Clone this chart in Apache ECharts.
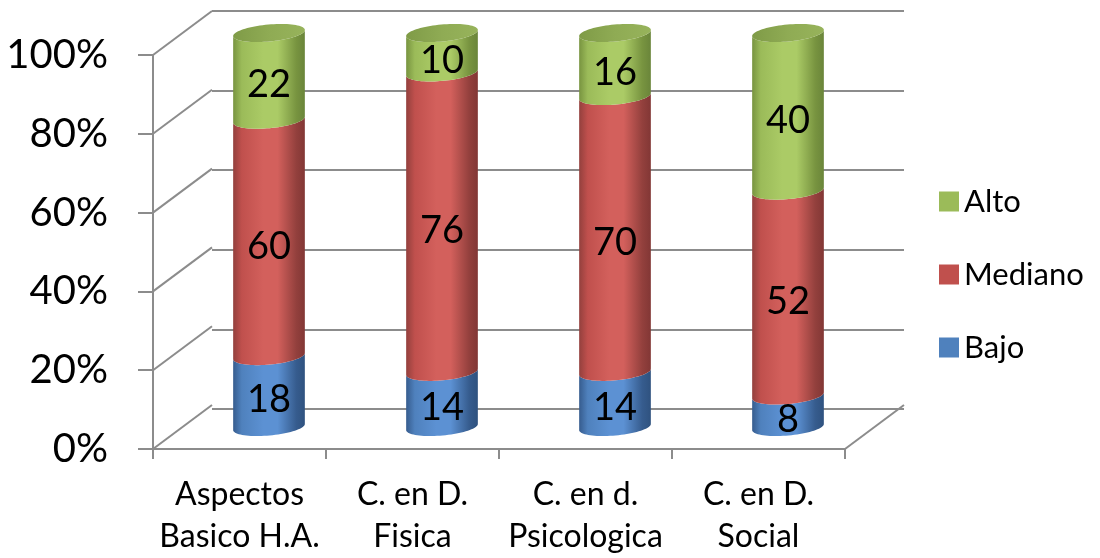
<!DOCTYPE html>
<html>
<head>
<meta charset="utf-8">
<style>
  html, body { margin: 0; padding: 0; background: #ffffff; }
  #chart { width: 1100px; height: 558px; }
</style>
<script src="https://cdn.jsdelivr.net/npm/echarts@6/dist/echarts.min.js"></script>
</head>
<body>
<div id="chart"></div>
<script>
// Categories and stacked percentages per level
const categories = ['Aspectos\nBasico H.A.', 'C. en D.\nFisica', 'C. en d.\nPsicologica', 'C. en D.\nSocial'];
const bajo = [18, 14, 14, 8];
const mediano = [60, 76, 70, 52];
const alto = [22, 10, 16, 40];
const yTicks = [0, 20, 40, 60, 80, 100];
const seriesNames = ['Bajo', 'Mediano', 'Alto'];

// Depth of the 3D box (back wall offset from the front plane), in pixels
const DX = 59, DY = -44;
const FONT = 'Lato, "Open Sans", sans-serif';
const GRID_COLOR = '#8c8c8c';

const palette = {
  Bajo:    { base: '#4F81BD', dark: '#365C8E', light: '#5C91D3', edge: '#2F527F' },
  Mediano: { base: '#C0504D', dark: '#93403D', light: '#D3605C', edge: '#823735' },
  Alto:    { base: '#9BBB59', dark: '#789440', light: '#ABCB66', edge: '#6A853A' }
};

const chart = echarts.init(document.getElementById('chart'), null, { renderer: 'canvas' });

// front plane grid
const F = { left: 153, right: 255, top: 55, bottom: 105 };

function ellipsePts(cx, cy, rx, ry, t0, t1, n) {
  const th = -0.09, c = Math.cos(th), s = Math.sin(th);
  const pts = [];
  for (let k = 0; k <= n; k++) {
    const t = t0 + (t1 - t0) * k / n;
    const ex = rx * Math.cos(t), ey = ry * Math.sin(t);
    pts.push([cx + ex * c - ey * s, cy + ex * s + ey * c]);
  }
  return pts;
}

function buildStack(values, offsets) {
  return values.map((v, i) => [i, offsets[i], offsets[i] + v, v]);
}
const start1 = bajo.map(() => 0);
const start2 = bajo.slice();
const start3 = bajo.map((b, i) => b + mediano[i]);
const stacks = {
  Bajo: buildStack(bajo, start1),
  Mediano: buildStack(mediano, start2),
  Alto: buildStack(alto, start3)
};

function cylinderRender(name, withCap) {
  const col = palette[name];
  return function (params, api) {
    const i = api.value(0), s = api.value(1), e = api.value(2), val = api.value(3);
    const pb = api.coord([i, s]);
    const pt = api.coord([i, e]);
    const bw = api.size([1, 0])[0];
    const rx = bw * 0.208, ry = 8.5;
    const cx = pb[0] + DX / 2;
    const yb = pb[1] + DY / 2;
    const yt = pt[1] + DY / 2;
    const top = ellipsePts(cx, yt, rx, ry, Math.PI, 0, 40);
    const bot = ellipsePts(cx, yb, rx, ry, 0, Math.PI, 40);
    const grad = new echarts.graphic.LinearGradient(0, 0, 1, 0, [
      { offset: 0, color: col.dark },
      { offset: 0.12, color: col.base },
      { offset: 0.42, color: col.light },
      { offset: 0.62, color: col.light },
      { offset: 0.88, color: col.dark },
      { offset: 1, color: col.edge }
    ]);
    const children = [{
      type: 'polygon',
      shape: { points: top.concat(bot) },
      style: { fill: grad, stroke: null }
    }];
    if (withCap) {
      const cap = ellipsePts(cx, yt, rx, ry, 0, Math.PI * 2, 80);
      children.push({
        type: 'polygon',
        shape: { points: cap },
        style: {
          fill: new echarts.graphic.LinearGradient(0, 0, 1, 0, [
            { offset: 0, color: '#7F9B47' },
            { offset: 0.5, color: '#8FAB54' },
            { offset: 1, color: '#97B35B' }
          ])
        }
      });
    }
    children.push({
      type: 'text',
      style: {
        text: String(val),
        x: cx, y: (yt + yb) / 2 + ry,
        align: 'center', verticalAlign: 'middle',
        font: '38px ' + FONT,
        fill: '#000000'
      },
      z2: 10
    });
    return { type: 'group', children: children };
  };
}

// wall edges joining the front axis to the back wall
const frameData = yTicks.map(v => [0, v, 0]).concat([[categories.length - 1, 0, 1]]);

function frameRender(params, api) {
  const i = api.value(0), v = api.value(1), side = api.value(2);
  const p = api.coord([i, v]);
  const bw = api.size([1, 0])[0];
  const x = side === 0 ? p[0] - bw / 2 : p[0] + bw / 2;
  return {
    type: 'line',
    shape: { x1: x, y1: p[1], x2: x + DX, y2: p[1] + DY },
    style: { stroke: GRID_COLOR, lineWidth: 2 }
  };
}

const option = {
  backgroundColor: '#ffffff',
  animation: false,
  grid: [
    { left: F.left, right: F.right, top: F.top, bottom: F.bottom },
    { left: F.left + DX, right: F.right - DX, top: F.top + DY, bottom: F.bottom - DY }
  ],
  legend: {
    data: ['Alto', 'Mediano', 'Bajo'],
    orient: 'vertical',
    left: 934,
    top: 181,
    icon: 'rect',
    itemWidth: 20,
    itemHeight: 20,
    itemGap: 42,
    textStyle: { fontFamily: FONT, fontSize: 31, color: '#000000' }
  },
  xAxis: [
    {
      type: 'category', gridIndex: 0, data: categories,
      axisLine: { show: true, lineStyle: { color: GRID_COLOR, width: 2 } },
      axisTick: { show: true, length: 10, lineStyle: { color: GRID_COLOR, width: 2 } },
      axisLabel: { fontFamily: FONT, fontSize: 32, color: '#000000', lineHeight: 42, margin: 25, interval: 0 },
      splitLine: { show: false }
    },
    {
      type: 'category', gridIndex: 1, data: categories, show: false
    }
  ],
  yAxis: [
    {
      type: 'value', gridIndex: 0, min: 0, max: 100, interval: 20,
      axisLine: { show: true, lineStyle: { color: GRID_COLOR, width: 2 } },
      axisTick: { show: true, length: 15, lineStyle: { color: GRID_COLOR, width: 2 } },
      axisLabel: { formatter: '{value}%', fontFamily: FONT, fontSize: 40, color: '#000000', margin: 45 },
      splitLine: { show: false }
    },
    {
      type: 'value', gridIndex: 1, min: 0, max: 100, interval: 20,
      axisLine: { show: false }, axisTick: { show: false }, axisLabel: { show: false },
      splitLine: { show: true, lineStyle: { color: GRID_COLOR, width: 2 } }
    }
  ],
  series: [
    {
      type: 'custom', name: 'frame', xAxisIndex: 0, yAxisIndex: 0,
      data: frameData, renderItem: frameRender, silent: true, z: 1
    },
    {
      type: 'custom', name: 'Bajo', xAxisIndex: 0, yAxisIndex: 0,
      itemStyle: { color: palette.Bajo.base },
      data: stacks.Bajo, renderItem: cylinderRender('Bajo', false), z: 3
    },
    {
      type: 'custom', name: 'Mediano', xAxisIndex: 0, yAxisIndex: 0,
      itemStyle: { color: palette.Mediano.base },
      data: stacks.Mediano, renderItem: cylinderRender('Mediano', false), z: 3
    },
    {
      type: 'custom', name: 'Alto', xAxisIndex: 0, yAxisIndex: 0,
      itemStyle: { color: palette.Alto.base },
      data: stacks.Alto, renderItem: cylinderRender('Alto', true), z: 3
    }
  ]
};

chart.setOption(option);
</script>
</body>
</html>
